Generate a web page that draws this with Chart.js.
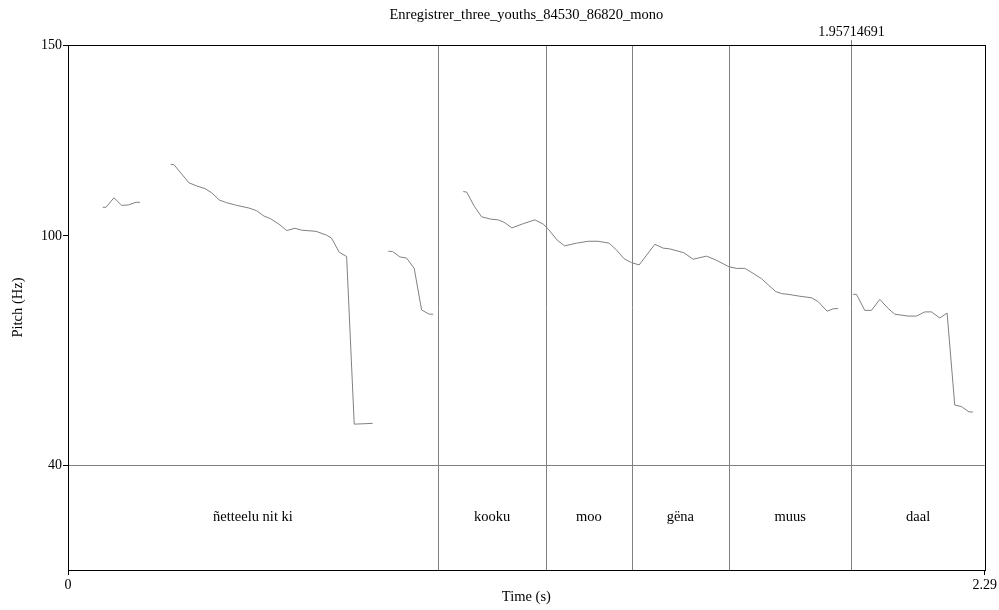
<!DOCTYPE html>
<html>
<head>
<meta charset="utf-8">
<script src="https://cdn.jsdelivr.net/npm/chart.js@4"></script>
<style>
  html, body { margin: 0; padding: 0; background: #fff; }
</style>
</head>
<body>
<canvas id="pitchChart" width="999" height="610"></canvas>
<script>
// pitch track (s, Hz); null = unvoiced gap
const pitchTimes = [
  0.0867, 0.0949, 0.1149, 0.1341, 0.1506, 0.1698, 0.1798, null,
  0.2565, 0.2647, 0.3022, 0.3214, 0.3421, 0.3589, 0.3778, 0.3963, 0.4213, 0.4520,
  0.4712, 0.4895, 0.5062, 0.5294, 0.5462, 0.5669, 0.5836, 0.6193, 0.6460, 0.6585,
  0.6775, 0.6960, 0.7150, 0.7609, null,
  0.7999, 0.8109, 0.8291, 0.8458, 0.8648, 0.8833, 0.9023, 0.9123, null,
  0.9872, 0.9957, 1.0147, 1.0331, 1.0556, 1.0746, 1.0888, 1.1088, 1.1370, 1.1662,
  1.1870, 1.1995, 1.2219, 1.2404, 1.2704, 1.2993, 1.3243, 1.3518, 1.3702, 1.3893,
  1.4077, 1.4267, 1.4659, 1.4867, 1.5034, 1.5383, 1.5616, 1.5950, 1.6183, 1.6515,
  1.6699, 1.6907, 1.7114, 1.7324, 1.7489, 1.7681, 1.7823, 1.7988, 1.8280, 1.8572,
  1.8737, 1.8962, 1.9112, 1.9237, null,
  1.9611, 1.9696, 1.9903, 2.0071, 2.0278, 2.0486, 2.0653, 2.0985, 2.1195, 2.1402,
  2.1569, 2.1777, 2.1959, 2.2151, 2.2318, 2.2508, 2.2608
];
const pitchHz = [
  107.5, 107.5, 110.0, 108.0, 108.1, 108.8, 108.8, null,
  118.75, 118.65, 113.9, 113.1, 112.4, 111.3, 109.4, 108.7, 108.0, 107.3,
  106.6, 105.2, 104.5, 102.9, 101.4, 102.0, 101.5, 101.2, 100.2, 99.4,
  95.7, 94.6, 50.7, 50.9, null,
  96.0, 95.9, 94.5, 94.2, 91.5, 80.6, 79.5, 79.5, null,
  111.6, 111.5, 107.8, 105.0, 104.4, 104.2, 103.6, 102.1, 103.2, 104.2,
  103.1, 101.8, 98.9, 97.4, 98.1, 98.6, 98.6, 98.1, 96.3, 94.0,
  93.0, 92.4, 97.8, 96.8, 96.6, 95.6, 93.9, 94.7, 93.7, 91.9,
  91.5, 91.5, 90.2, 88.8, 87.2, 85.4, 84.9, 84.7, 84.2, 83.8,
  82.8, 80.3, 80.9, 81.0, null,
  84.7, 84.7, 80.5, 80.5, 83.4, 81.0, 79.5, 79.0, 79.0, 80.1,
  80.1, 78.5, 79.8, 55.7, 55.3, 53.9, 53.9
];

const boundaryTimes = [0.924, 1.1944, 1.4077, 1.6514, 1.95714691];
const tierLabels = ['ñetteelu nit ki', 'kooku', 'moo', 'gëna', 'muus', 'daal'];
const cursorTime = 1.95714691;
const totalTime = 2.29;
const xTickValues = [0, 2.29];
const yTickValues = [150, 100, 40];
const tierLineHz = 40;
const chartTitle = 'Enregistrer_three_youths_84530_86820_mono';

const serif = '"Liberation Serif", "Times New Roman", serif';
Chart.defaults.font.family = serif;
Chart.defaults.font.size = 14;
Chart.defaults.color = '#000';

const praatPlugin = {
  id: 'praatTier',
  beforeDatasetsDraw(chart) {
    const { ctx, chartArea: a, scales: { x, y } } = chart;
    ctx.save();
    ctx.strokeStyle = '#808080';
    ctx.lineWidth = 1;
    boundaryTimes.forEach(t => {
      const px = Math.round(x.getPixelForValue(t)) + 0.5;
      ctx.beginPath();
      ctx.moveTo(px, a.top);
      ctx.lineTo(px, a.bottom);
      ctx.stroke();
    });
    // cursor mark above the frame
    const cx = Math.round(x.getPixelForValue(cursorTime)) + 0.5;
    ctx.beginPath();
    ctx.moveTo(cx, a.top - 5);
    ctx.lineTo(cx, a.top);
    ctx.stroke();
    ctx.fillStyle = '#000';
    ctx.font = '14px ' + serif;
    ctx.textAlign = 'center';
    ctx.textBaseline = 'middle';
    ctx.fillText(String(cursorTime), cx, a.top - 13);
    // title, centred over the plot frame
    ctx.font = '14.5px ' + serif;
    ctx.fillText(chartTitle, (a.left + a.right) / 2, 15);
    // tier labels
    const edges = [0, ...boundaryTimes, totalTime];
    const labelY = (y.getPixelForValue(tierLineHz) + a.bottom) / 2;
    tierLabels.forEach((lab, i) => {
      const mx = (x.getPixelForValue(edges[i]) + x.getPixelForValue(edges[i + 1])) / 2;
      ctx.fillText(lab, mx, labelY);
    });
    ctx.restore();
  },
  afterDraw(chart) {
    const { ctx, chartArea: a } = chart;
    ctx.save();
    ctx.strokeStyle = '#000';
    ctx.lineWidth = 1;
    ctx.strokeRect(Math.round(a.left) + 0.5, Math.round(a.top) + 0.5,
      Math.round(a.right - a.left), Math.round(a.bottom - a.top));
    ctx.restore();
  }
};

new Chart(document.getElementById('pitchChart'), {
  type: 'scatter',
  data: {
    datasets: [{
      data: pitchTimes.map((t, i) => ({ x: t === null ? pitchTimes[i - 1] : t, y: pitchHz[i] })),
      showLine: true,
      spanGaps: false,
      borderColor: '#808080',
      borderWidth: 1,
      pointRadius: 0,
      tension: 0
    }]
  },
  options: {
    responsive: false,
    animation: false,
    layout: { padding: { top: 45, right: 14, left: 0, bottom: 0 } },
    plugins: {
      legend: { display: false },
      tooltip: { enabled: false },
      title: { display: false }
    },
    scales: {
      x: {
        type: 'linear',
        min: 0,
        max: totalTime,
        afterBuildTicks: s => { s.ticks = xTickValues.map(v => ({ value: v })); },
        afterFit: s => { s.height = 40; },
        ticks: { padding: 2, maxRotation: 0, autoSkip: false, color: '#000', callback: v => String(v) },
        grid: { drawOnChartArea: false, tickLength: 5, color: '#000' },
        border: { color: '#000' },
        title: { display: true, text: 'Time (s)', color: '#000', font: { size: 14.5 }, padding: { top: 0 } }
      },
      y: {
        type: 'linear',
        min: 12.5,
        max: 150,
        afterBuildTicks: s => { s.ticks = yTickValues.map(v => ({ value: v })); },
        afterFit: s => { s.width = 68; },
        ticks: { padding: 1, autoSkip: false, color: '#000' },
        grid: {
          color: c => (c.tick && c.tick.value === tierLineHz) ? '#808080' : 'rgba(0,0,0,0)',
          tickColor: '#000',
          tickLength: 5
        },
        border: { color: '#000' },
        title: { display: true, text: 'Pitch (Hz)', color: '#000', font: { size: 14.5 }, padding: { top: 9 } }
      }
    }
  },
  plugins: [praatPlugin]
});
</script>
</body>
</html>
